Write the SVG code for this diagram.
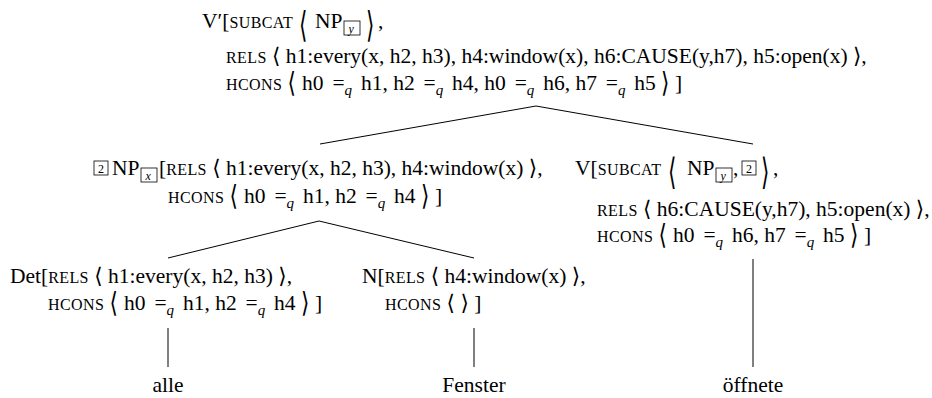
<svg xmlns="http://www.w3.org/2000/svg" width="932" height="398" viewBox="0 0 932 398">
<style>
.t{font-family:"Liberation Serif","DejaVu Serif",serif;font-size:21.5px;fill:#000}
.sc{font-size:16px;letter-spacing:0.4px}
.ang{font-family:"DejaVu Serif",serif}
.bb{font-family:"DejaVu Serif",serif;font-size:21.5px;fill:#000}
.q{font-style:italic;font-size:15px}
.bx{fill:none;stroke:#000;stroke-width:0.8}
.bt{font-family:"Liberation Serif",serif;font-size:12px;font-style:italic;fill:#000}
.bn{font-family:"Liberation Serif",serif;font-size:12px;fill:#000}
.ln{stroke:#000;stroke-width:1;fill:none}
</style>
<rect width="932" height="398" fill="#fff"/>
<g id="connectors">
<line class="ln" x1="536" y1="106" x2="320" y2="144"/>
<line class="ln" x1="536" y1="106" x2="753" y2="144"/>
<line class="ln" x1="319" y1="221" x2="168" y2="258"/>
<line class="ln" x1="319" y1="221" x2="474" y2="258"/>
<line class="ln" x1="168" y1="328" x2="168" y2="367"/>
<line class="ln" x1="474" y1="328" x2="474" y2="367"/>
<line class="ln" x1="753" y1="259" x2="753" y2="367"/>
</g>
<g id="n-vbar">
<text class="t" x="202" y="28">V′[<tspan class="sc">SUBCAT</tspan></text>
<text class="bb" transform="translate(299,37) scale(1,1.65)">⟨</text>
<text class="t" x="315" y="28">NP</text>
<rect class="bx" x="344" y="21" width="16" height="14"/>
<text class="bt" x="348.5" y="32.5">y</text>
<text class="bb" transform="translate(366,37) scale(1,1.65)">⟩</text>
<text class="t" x="378" y="28">,</text>
<text class="t" x="226" y="63"><tspan class="sc">RELS</tspan> <tspan class="ang">⟨</tspan> h1:every(x, h2, h3), h4:window(x), h6:CAUSE(y,h7), h5:open(x) <tspan class="ang">⟩</tspan>,</text>
<text class="t" x="226" y="90"><tspan class="sc">HCONS</tspan></text>
<text class="bb" transform="translate(287.6,92) scale(1,1.3)">⟨</text>
<text class="t" x="302" y="90">h0<tspan dx="3.5"> =</tspan><tspan class="q" dy="5">q</tspan><tspan dx="3.5" dy="-5"> h1, h2</tspan><tspan dx="3.5"> =</tspan><tspan class="q" dy="5">q</tspan><tspan dx="3.5" dy="-5"> h4, h0</tspan><tspan dx="3.5"> =</tspan><tspan class="q" dy="5">q</tspan><tspan dx="3.5" dy="-5"> h6, h7</tspan><tspan dx="3.5"> =</tspan><tspan class="q" dy="5">q</tspan><tspan dx="3.5" dy="-5"> h5</tspan></text>
<text class="bb" transform="translate(661,92) scale(1,1.3)">⟩</text>
<text class="t" x="675" y="90">]</text>
</g>
<g id="n-np">
<rect class="bx" x="94" y="161" width="14" height="14"/>
<text class="bn" x="98" y="172.5">2</text>
<text class="t" x="112" y="175">NP</text>
<rect class="bx" x="141" y="168" width="16" height="14"/>
<text class="bt" x="145.5" y="179.5">x</text>
<text class="t" x="159" y="175">[<tspan class="sc">RELS</tspan> <tspan class="ang">⟨</tspan> h1:every(x, h2, h3), h4:window(x) <tspan class="ang">⟩</tspan>,</text>
<text class="t" x="168" y="203"><tspan class="sc">HCONS</tspan></text>
<text class="bb" transform="translate(229.6,205) scale(1,1.3)">⟨</text>
<text class="t" x="244" y="203">h0<tspan dx="3.5"> =</tspan><tspan class="q" dy="5">q</tspan><tspan dx="3.5" dy="-5"> h1, h2</tspan><tspan dx="3.5"> =</tspan><tspan class="q" dy="5">q</tspan><tspan dx="3.5" dy="-5"> h4</tspan></text>
<text class="bb" transform="translate(421,205) scale(1,1.3)">⟩</text>
<text class="t" x="435" y="203">]</text>
</g>
<g id="n-v">
<text class="t" x="575" y="175">V[<tspan class="sc">SUBCAT</tspan></text>
<text class="bb" transform="translate(668,184) scale(1,1.7)">⟨</text>
<text class="t" x="687" y="175">NP</text>
<rect class="bx" x="716" y="168" width="16" height="14"/>
<text class="bt" x="720.5" y="179.5">y</text>
<text class="t" x="733" y="175">,</text>
<rect class="bx" x="742" y="161" width="14" height="14"/>
<text class="bn" x="746" y="172.5">2</text>
<text class="bb" transform="translate(761,184) scale(1,1.7)">⟩</text>
<text class="t" x="773" y="175">,</text>
<text class="t" x="597" y="216"><tspan class="sc">RELS</tspan> <tspan class="ang">⟨</tspan> h6:CAUSE(y,h7), h5:open(x) <tspan class="ang">⟩</tspan>,</text>
<text class="t" x="597" y="242"><tspan class="sc">HCONS</tspan></text>
<text class="bb" transform="translate(658.6,244) scale(1,1.3)">⟨</text>
<text class="t" x="673" y="242">h0<tspan dx="3.5"> =</tspan><tspan class="q" dy="5">q</tspan><tspan dx="3.5" dy="-5"> h6, h7</tspan><tspan dx="3.5"> =</tspan><tspan class="q" dy="5">q</tspan><tspan dx="3.5" dy="-5"> h5</tspan></text>
<text class="bb" transform="translate(850,244) scale(1,1.3)">⟩</text>
<text class="t" x="864" y="242">]</text>
</g>
<g id="n-det">
<text class="t" x="10" y="283">Det[<tspan class="sc">RELS</tspan> <tspan class="ang">⟨</tspan> h1:every(x, h2, h3) <tspan class="ang">⟩</tspan>,</text>
<text class="t" x="48" y="310"><tspan class="sc">HCONS</tspan></text>
<text class="bb" transform="translate(109.6,312) scale(1,1.3)">⟨</text>
<text class="t" x="124" y="310">h0<tspan dx="3.5"> =</tspan><tspan class="q" dy="5">q</tspan><tspan dx="3.5" dy="-5"> h1, h2</tspan><tspan dx="3.5"> =</tspan><tspan class="q" dy="5">q</tspan><tspan dx="3.5" dy="-5"> h4</tspan></text>
<text class="bb" transform="translate(301,312) scale(1,1.3)">⟩</text>
<text class="t" x="315" y="310">]</text>
</g>
<g id="n-n">
<text class="t" x="362" y="283">N[<tspan class="sc">RELS</tspan> <tspan class="ang">⟨</tspan> h4:window(x) <tspan class="ang">⟩</tspan>,</text>
<text class="t" x="385" y="310"><tspan class="sc">HCONS</tspan> <tspan class="ang">⟨</tspan> <tspan class="ang">⟩</tspan> ]</text>
</g>
<g id="n-alle"><text class="t" x="168" y="392" text-anchor="middle">alle</text></g>
<g id="n-fenster"><text class="t" x="474" y="392" text-anchor="middle">Fenster</text></g>
<g id="n-oeffnete"><text class="t" x="753" y="392" text-anchor="middle">öffnete</text></g>
</svg>
